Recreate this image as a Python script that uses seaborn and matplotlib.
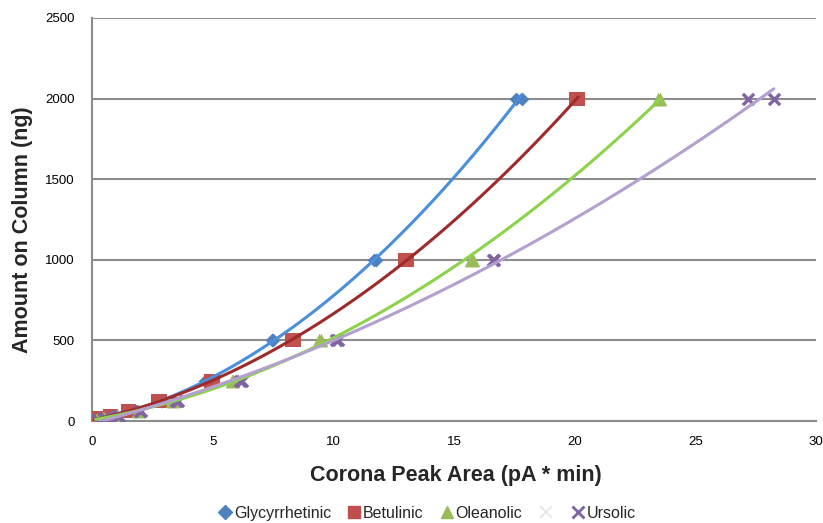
import matplotlib
matplotlib.use("Agg")
import matplotlib.pyplot as plt
from matplotlib.lines import Line2D
import seaborn as sns
import pandas as pd

# ---- data ----
amount = [2000, 1000, 500, 250, 125, 62.5, 31.25, 15.63, 7.81]
glyc_rep1 = [17.55, 11.75, 7.50, 4.70, 2.85, 1.75, 1.05, 0.55, 0.25]
glyc_rep2 = [17.80, 11.70, 7.45, 4.75, 2.90, 1.70, 1.00, 0.50, 0.20]
betu_rep1 = [20.05, 12.95, 8.30, 4.95, 2.80, 1.55, 0.80, 0.35, 0.10]
betu_rep2 = [20.15, 13.05, 8.35, 5.00, 2.75, 1.50, 0.75, 0.30, 0.10]
olea_rep1 = [23.45, 15.70, 9.40, 5.80, 3.30, 1.90, 1.00, 0.45, 0.15]
olea_rep2 = [23.55, 15.80, 9.50, 5.85, 3.40, 1.95, 1.05, 0.50, 0.20]
urso_rep1 = [27.20, 16.60, 10.10, 6.20, 3.50, 2.00, 1.05, 0.50, 0.20]
urso_rep2 = [28.25, 16.65, 10.20, 6.15, 3.55, 2.05, 1.10, 0.55, 0.25]

series_names = ["Glycyrrhetinic", "Betulinic", "Oleanolic", "Ursolic"]
series_reps = [(glyc_rep1, glyc_rep2), (betu_rep1, betu_rep2),
               (olea_rep1, olea_rep2), (urso_rep1, urso_rep2)]
marker_colors = ["#4F81BD", "#C0504D", "#9BBB59", "#8064A2"]
trend_colors = ["#4A8FDB", "#9E2B2B", "#8CD24A", "#B3A0CF"]
markers = ["D", "s", "^", "x"]
marker_sizes = [50, 95, 95, 65]

rows = []
for name, (r1, r2) in zip(series_names, series_reps):
    for a, x1, x2 in zip(amount, r1, r2):
        rows.append((name, x1, a))
        rows.append((name, x2, a))
df = pd.DataFrame(rows, columns=["series", "area", "amount"])

sns.set_style("white")
plt.rcParams["font.family"] = ["Liberation Sans", "DejaVu Sans"]

fig = plt.figure(figsize=(8.23, 5.23), dpi=100)
ax = fig.add_axes([0.1118, 0.195, 0.8797, 0.7706])

for name, mc, tc, mk, ms in zip(series_names, marker_colors, trend_colors, markers, marker_sizes):
    sub = df[df.series == name]
    if mk == "x":
        sns.scatterplot(data=sub, x="area", y="amount", ax=ax, marker=mk,
                        color=mc, s=ms, linewidth=2.4, zorder=3, legend=False)
    else:
        sns.scatterplot(data=sub, x="area", y="amount", ax=ax, marker=mk,
                        color=mc, s=ms, edgecolor=mc, linewidth=0, zorder=3, legend=False)
for name, tc in zip(series_names, trend_colors):
    sub = df[df.series == name]
    sns.regplot(data=sub, x="area", y="amount", ax=ax, order=2, ci=None,
                scatter=False, truncate=True,
                line_kws=dict(color=tc, lw=2.2, zorder=4))

ax.set_xlim(0, 30)
ax.set_ylim(0, 2500)
ax.set_xticks([0, 5, 10, 15, 20, 25, 30])
ax.set_yticks([0, 500, 1000, 1500, 2000, 2500])
ax.yaxis.grid(True, color="#8C8C8C", lw=1.5)
ax.xaxis.grid(False)
ax.set_axisbelow(True)
for s in ["top", "right"]:
    ax.spines[s].set_visible(False)
for s in ["left", "bottom"]:
    ax.spines[s].set_color("#8C8C8C")
    ax.spines[s].set_linewidth(1.5)
ax.tick_params(axis="both", length=0, labelsize=9.5, colors="black")
ax.tick_params(axis="y", pad=12.5)
ax.tick_params(axis="x", pad=11)
ax.set_xlabel("Corona Peak Area (pA * min)", fontsize=15.5, fontweight="bold")
ax.set_ylabel("Amount on Column (ng)", fontsize=15.5, fontweight="bold")
ax.xaxis.set_label_coords(0.503, -0.109)
ax.yaxis.set_label_coords(-0.0815, 0.474)

handles = [
    Line2D([], [], ls="", marker="D", color=marker_colors[0], markersize=7),
    Line2D([], [], ls="", marker="s", color=marker_colors[1], markersize=9),
    Line2D([], [], ls="", marker="^", color=marker_colors[2], markersize=9),
    Line2D([], [], ls="", marker="x", color="#E4E4E4", markersize=8, mew=1.2),
    Line2D([], [], ls="", marker="x", color=marker_colors[3], markersize=8, mew=2),
]
labels = ["Glycyrrhetinic", "Betulinic", "Oleanolic", "", "Ursolic"]
fig.legend(handles, labels, loc="center", bbox_to_anchor=(0.518, 0.019), ncol=5,
           frameon=False, fontsize=11.5, handletextpad=0.05, columnspacing=0.95,
           handlelength=1.0)

fig.savefig("out.png", dpi=100)
